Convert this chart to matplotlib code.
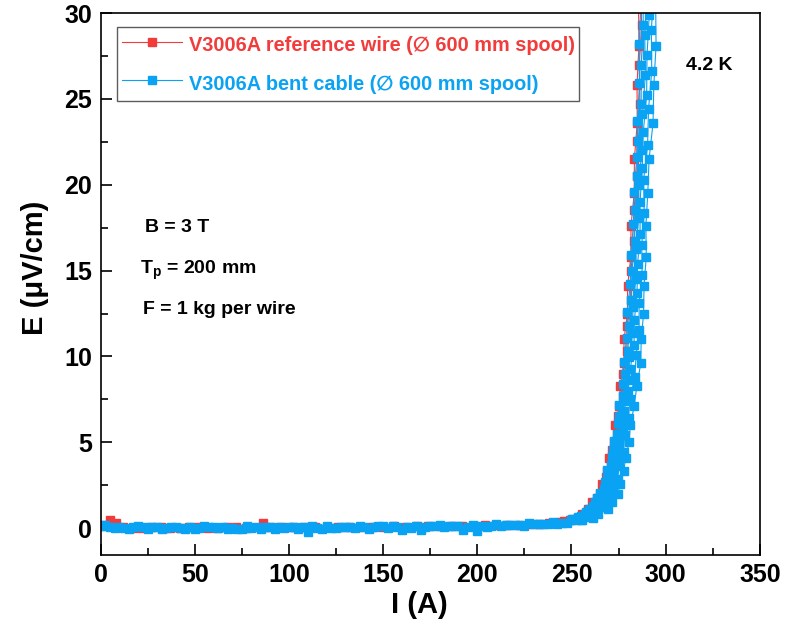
import matplotlib
matplotlib.use("Agg")
import matplotlib.pyplot as plt
from matplotlib.ticker import MultipleLocator

plt.rcParams["font.family"] = ["Liberation Sans", "DejaVu Sans"]
plt.rcParams["font.weight"] = "bold"
plt.rcParams["mathtext.fontset"] = "custom"
plt.rcParams["mathtext.bf"] = "Liberation Sans:bold"
plt.rcParams["mathtext.rm"] = "Liberation Sans:bold"
plt.rcParams["mathtext.default"] = "bf"

RED = "#f23c3c"
BLUE = "#0aa2f2"

# reference wire, two ramps (current in A, field in uV/cm)
ref1_i = [0, 5, 12, 22, 32, 42, 52, 62, 72, 86, 96, 108, 120, 132, 144, 156, 168, 180, 192, 204,
          216, 228, 238, 244,
          249, 253.4, 255.6, 258.9, 261.1, 264.9, 266.1, 268.9, 269.9, 272.4, 273.2, 275.4, 275.9, 277.8,
          277.9, 279.7, 279.8, 281.5, 281.6, 283.3, 283.4, 284.9, 284.8, 285.8, 285.6]
ref1_e = [0.1, 0.45, 0.05, 0.03, 0.04, 0.02, 0.05, 0.03, 0.05, 0.3, 0.06, 0.05, 0.06, 0.07, 0.08, 0.1,
          0.1, 0.12, 0.14, 0.16, 0.2, 0.24, 0.3, 0.36,
          0.45, 0.6, 0.8, 1.1, 1.5, 2.0, 2.6, 3.3, 4.1, 5.0, 6.0, 7.1, 8.3, 9.6,
          11.0, 12.5, 14.1, 15.8, 17.6, 19.5, 21.5, 23.6, 25.8, 28.1, 30.5]

ref2_i = [1, 8, 17, 27, 37, 47, 57, 67, 77, 90, 102, 114, 126, 138, 150, 162, 174, 186, 198, 210,
          222, 233, 241, 246,
          251, 255.9, 258.1, 261.5, 263.6, 266.9, 268.1, 270.8, 271.6, 274.1, 274.8, 277.1, 277.5, 279.4,
          279.6, 281.4, 281.5, 283.2, 283.2, 284.7, 284.8, 286.3, 286.0, 287.2, 286.8]
ref2_e = [0.2, 0.3, 0.02, 0.04, 0.02, 0.05, 0.03, 0.04, 0.03, 0.06, 0.05, 0.04, 0.07, 0.06, 0.09, 0.08,
          0.11, 0.13, 0.15, 0.17, 0.21, 0.26, 0.32, 0.4,
          0.52, 0.7, 0.95, 1.3, 1.75, 2.3, 2.95, 3.7, 4.55, 5.5, 6.55, 7.7, 8.95, 10.3,
          11.75, 13.3, 14.95, 16.7, 18.55, 20.5, 22.55, 24.7, 26.95, 29.3, 31.5]

# bent cable, six ramps
bent1_i = [0, 15, 30, 45, 60, 75, 90, 105, 120, 135, 150, 165, 180, 195, 210, 225, 240,
           249.9, 253.3, 257.0, 259.2, 262.6, 265.0, 267.6, 268.9, 271.3, 272.4, 274.5, 275.3, 277.3,
           277.8, 279.3, 279.7, 281.2, 281.5, 282.9, 283.2, 284.7, 285.0, 286.1, 285.9, 286.9]
bent1_e = [0.1, -0.05, 0.08, -0.04, 0.07, -0.03, 0.06, -0.05, 0.1, 0.0, 0.12, 0.02, 0.17, 0.06, 0.23,
           0.15, 0.36,
           0.46, 0.62, 0.83, 1.14, 1.55, 2.06, 2.67, 3.38, 4.2, 5.1, 6.1, 7.2, 8.4, 9.7, 11.1, 12.6,
           14.2, 15.9, 17.7, 19.6, 21.6, 23.7, 25.9, 28.2, 30.6]

bent2_i = [2.5, 17.5, 32.5, 47.5, 62.5, 77.5, 92.5, 107.5, 122.5, 137.5, 152.5, 167.5, 182.5, 197.5,
           212.5, 227.5, 242.5,
           250.5, 255.3, 257.8, 261.6, 263.8, 267.3, 268.6, 271.1, 272.2, 274.4, 275.3, 277.3, 278.2,
           280.0, 280.3, 281.8, 282.1, 283.5, 283.7, 285.0, 285.4, 287.0, 287.0, 288.1, 287.9]
bent2_e = [0.18, 0.06, -0.06, 0.09, -0.02, 0.1, -0.04, 0.08, -0.02, 0.12, 0.03, 0.14, 0.05, 0.2, 0.12,
           0.28, 0.25,
           0.52, 0.7, 0.95, 1.3, 1.75, 2.3, 2.95, 3.7, 4.55, 5.5, 6.55, 7.7, 8.95, 10.3, 11.75, 13.3,
           14.95, 16.7, 18.55, 20.5, 22.55, 24.7, 26.95, 29.3, 31.5]

bent3_i = [5, 20, 35, 50, 65, 80, 95, 110, 125, 140, 155, 170, 185, 200, 215, 230, 245,
           252.3, 256.0, 260.0, 262.6, 266.3, 268.3, 270.9, 271.9, 274.4, 275.1, 277.3, 278.0, 280.4,
           280.8, 282.5, 282.6, 284.2, 284.2, 285.7, 285.6, 287.4, 287.7, 289.2, 288.9, 290.1]
bent3_e = [0.05, 0.1, 0.0, -0.07, 0.08, 0.01, 0.09, -0.25, 0.02, 0.05, 0.1, -0.1, 0.1, -0.18, 0.2,
           0.22, 0.3,
           0.48, 0.65, 0.88, 1.2, 1.62, 2.15, 2.78, 3.5, 4.32, 5.25, 6.28, 7.4, 8.62, 9.95, 11.38, 12.9,
           14.52, 16.25, 18.08, 20.0, 22.02, 24.15, 26.38, 28.7, 31.0]

bent4_i = [7.5, 22.5, 37.5, 52.5, 67.5, 82.5, 97.5, 112.5, 127.5, 142.5, 157.5, 172.5, 187.5, 202.5,
           217.5, 232.5, 247.5,
           252.9, 258.1, 260.8, 265.2, 267.5, 270.8, 271.9, 274.2, 275.2, 277.3, 278.0, 280.1, 281.2,
           283.2, 283.4, 284.8, 285.1, 286.4, 286.4, 287.6, 288.1, 289.9, 290.1, 291.3, 291.1]
bent4_e = [-0.02, 0.04, 0.09, 0.03, -0.05, 0.07, 0.0, 0.11, 0.04, -0.03, 0.09, 0.05, 0.15, 0.1, 0.16,
           0.25, 0.32,
           0.55, 0.75, 1.02, 1.4, 1.88, 2.45, 3.12, 3.9, 4.78, 5.75, 6.82, 7.98, 9.28, 10.65, 12.12,
           13.7, 15.38, 17.15, 19.02, 21.0, 23.05, 25.25, 27.55, 29.9, 32.0]

bent5_i = [10, 25, 40, 55, 70, 85, 100, 115, 130, 145, 160, 175, 190, 205, 220, 235,
           255.0, 259.0, 263.2, 266.5, 270.3, 272.1, 274.5, 275.3, 277.7, 278.2, 280.3, 281.0, 283.7,
           284.3, 285.9, 285.9, 287.5, 287.3, 288.6, 288.3, 290.4, 290.9, 292.6, 292.4, 293.6]
bent5_e = [0.07, -0.04, 0.06, 0.1, 0.02, -0.03, 0.08, 0.03, 0.09, 0.06, -0.12, 0.1, 0.13, 0.09, 0.19,
           0.24,
           0.5, 0.67, 0.9, 1.24, 1.68, 2.22, 2.86, 3.6, 4.45, 5.4, 6.42, 7.55, 8.8, 10.1, 11.55, 13.1,
           14.75, 16.5, 18.35, 20.3, 22.3, 24.4, 26.6, 29.0, 31.2]

bent6_i = [12.5, 27.5, 42.5, 57.5, 72.5, 87.5, 102.5, 117.5, 132.5, 147.5, 162.5, 177.5, 192.5,
           207.5, 222.5, 237.5,
           255.7, 261.3, 264.2, 269.3, 271.7, 274.8, 275.7, 277.8, 278.7, 280.6, 281.2, 283.3, 284.7,
           286.8, 287.0, 288.3, 288.5, 289.7, 289.5, 290.5, 291.2, 293.3, 293.7, 294.9, 294.7]
bent6_e = [0.0, 0.08, 0.03, 0.05, -0.03, 0.09, 0.04, -0.06, 0.06, 0.1, 0.07, 0.12, -0.1, 0.15, 0.18,
           0.22,
           0.45, 0.6, 0.8, 1.1, 1.5, 2.0, 2.6, 3.3, 4.1, 5.0, 6.0, 7.1, 8.3, 9.6, 11.0, 12.5, 14.1,
           15.8, 17.6, 19.5, 21.5, 23.6, 25.8, 28.1, 30.5]

ref_runs = [(ref1_i, ref1_e), (ref2_i, ref2_e)]
bent_runs = [(bent1_i, bent1_e), (bent2_i, bent2_e), (bent3_i, bent3_e),
             (bent4_i, bent4_e), (bent5_i, bent5_e), (bent6_i, bent6_e)]

fig = plt.figure(figsize=(7.94, 6.23), dpi=100)
ax = fig.add_axes([0.1266, 0.109, 0.957 - 0.1266, 0.979 - 0.109])

style = dict(marker="s", markersize=5.2, linewidth=0.8)
for k, (ii, ee) in enumerate(ref_runs):
    ax.plot(ii, ee, color=RED, label="V3006A reference wire (\u2205 600 mm spool)" if k == 0 else None, **style)
for k, (ii, ee) in enumerate(bent_runs):
    ax.plot(ii, ee, color=BLUE, label="V3006A bent cable (\u2205 600 mm spool)" if k == 0 else None, **style)

ax.set_xlim(0, 350)
ax.set_ylim(-1.57, 30)
ax.xaxis.set_major_locator(MultipleLocator(50))
ax.xaxis.set_minor_locator(MultipleLocator(25))
ax.yaxis.set_major_locator(MultipleLocator(5))
ax.yaxis.set_minor_locator(MultipleLocator(2.5))
ax.tick_params(which="both", direction="in", top=False, right=False, width=1.2, labelsize=18)
ax.tick_params(which="major", length=8, pad=6)
ax.tick_params(which="minor", length=5)
for lab in ax.get_xticklabels() + ax.get_yticklabels():
    lab.set_fontweight("bold")
for sp in ax.spines.values():
    sp.set_linewidth(1.2)

ax.set_xlabel("I (A)", fontsize=21, fontweight="bold")
ax.set_ylabel("E (\u03bcV/cm)", fontsize=21, fontweight="bold")
ax.xaxis.set_label_coords(0.484, -0.066)
ax.yaxis.set_label_coords(-0.078, 0.53)

# legend: tight sideways, roomy rows (as in the original)
leg = ax.legend(loc="upper left", bbox_to_anchor=(0.025, 0.974), fontsize=14.3, frameon=True,
                fancybox=False, handlelength=3.0, handleheight=1.6, borderpad=0.25,
                labelspacing=0.65, handletextpad=0.35, borderaxespad=0)
leg.get_frame().set_edgecolor("#333333")
leg.get_frame().set_linewidth(1.0)
for txt, col in zip(leg.get_texts(), [RED, BLUE]):
    txt.set_color(col)
    txt.set_fontweight("bold")

ax.text(0.924, 0.904, "4.2 K", transform=ax.transAxes, fontsize=14, fontweight="bold", ha="center", va="center")
ax.text(0.067, 0.605, "B = 3 T", transform=ax.transAxes, fontsize=14, fontweight="bold", va="center")
ax.text(0.06, 0.526, r"T$_\mathbf{p}$ = 200 mm", transform=ax.transAxes, fontsize=14, fontweight="bold", va="center")
ax.text(0.0645, 0.454, "F = 1 kg per wire", transform=ax.transAxes, fontsize=14, fontweight="bold", va="center")

fig.savefig("out.png", dpi=100)
